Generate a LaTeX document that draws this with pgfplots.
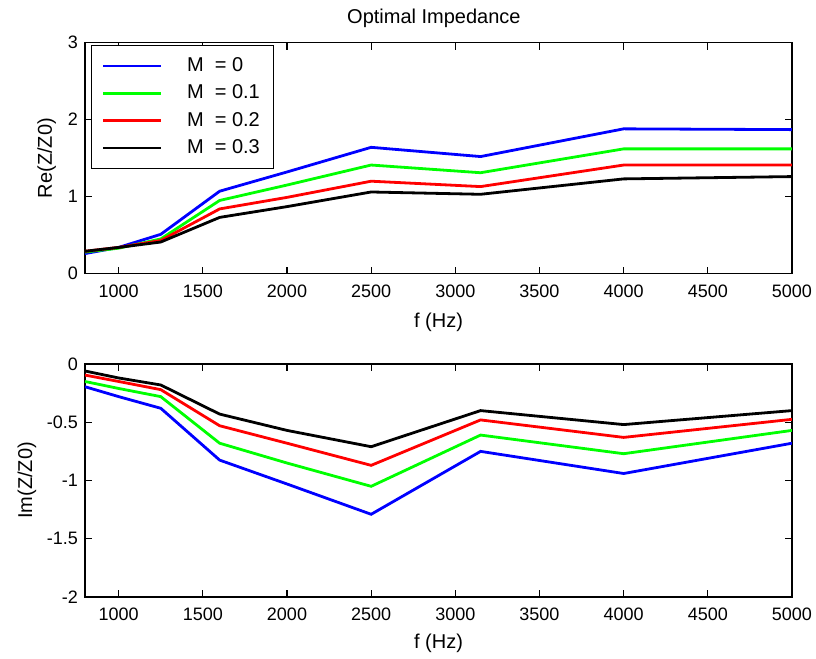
\documentclass[border=0pt]{standalone}
\usepackage{pgfplots}
\pgfplotsset{compat=1.18}
\usepackage{fontspec}
\setmainfont{Liberation Sans}
\definecolor{mblue}{RGB}{0,0,255}
\definecolor{mgreen}{RGB}{0,255,0}
\definecolor{mred}{RGB}{255,0,0}
\pgfplotsset{
  myaxis/.style={
    scale only axis, width=353.5pt,
    xmin=800, xmax=5000,
    xtick={1000,1500,2000,2500,3000,3500,4000,4500,5000},
    /pgf/number format/assume math mode=true,
    /pgf/number format/set thousands separator={},
    tick label style={font=\fontsize{9}{10}\selectfont},
    xticklabel style={yshift=-2pt},
    label style={font=\fontsize{10}{11}\selectfont},
    axis line style={line width=0.8pt},
    major tick length=3.5pt,
    every tick/.style={line width=0.6pt, black},
    xlabel={f (Hz)},
    every axis plot/.append style={line width=1.4pt},
  }
}
\begin{document}
\begin{tikzpicture}
\path[use as bounding box] (0,0) rectangle (408pt,-329.5pt);
\begin{axis}[myaxis, height=115.5pt,
  at={(42.5pt,-21.3pt)}, anchor=north west,
  ymin=0, ymax=3, ytick={0,1,2,3},
  ylabel={Re(Z/Z0)},
  ylabel style={at={(axis description cs:-0.054,0.5)}, anchor=center},
  xlabel style={at={(axis description cs:0.5,-0.212)}, anchor=center},
  title={Optimal Impedance},
  every axis title shift=0pt,
  title style={at={(axis description cs:0.4935,1.107)}, anchor=center, font=\fontsize{10}{11}\selectfont},
  legend style={at={(0.0085,0.99)}, anchor=north west, draw=black, line width=0.6pt,
    cells={anchor=west}, row sep=1.2pt, inner ysep=4pt, inner xsep=5pt,
    font=\fontsize{10}{11}\selectfont},
  legend image code/.code={\draw[#1] (0pt,0pt) -- (29pt,0pt); \path[draw=none] (0pt,0pt) -- (40pt,0pt);},
]
\addplot[mblue] coordinates {(800,0.26) (1000,0.34) (1250,0.51) (1600,1.07) (2000,1.32) (2500,1.64) (3150,1.52) (4000,1.88) (5000,1.87)};
\addlegendentry{M~~= 0}
\addplot[mgreen] coordinates {(800,0.28) (1000,0.33) (1250,0.45) (1600,0.95) (2000,1.15) (2500,1.41) (3150,1.31) (4000,1.62) (5000,1.62)};
\addlegendentry{M~~= 0.1}
\addplot[mred] coordinates {(800,0.29) (1000,0.34) (1250,0.43) (1600,0.84) (2000,0.99) (2500,1.20) (3150,1.13) (4000,1.41) (5000,1.41)};
\addlegendentry{M~~= 0.2}
\addplot[black] coordinates {(800,0.29) (1000,0.34) (1250,0.41) (1600,0.73) (2000,0.87) (2500,1.06) (3150,1.03) (4000,1.23) (5000,1.26)};
\addlegendentry{M~~= 0.3}
\end{axis}
\begin{axis}[myaxis, height=116.5pt,
  at={(42.5pt,-182pt)}, anchor=north west,
  ymin=-2, ymax=0, ytick={-2,-1.5,-1,-0.5,0},
  ylabel={Im(Z/Z0)},
  ylabel style={at={(axis description cs:-0.082,0.5)}, anchor=center},
  xlabel style={at={(axis description cs:0.5,-0.197)}, anchor=center},
]
\addplot[mblue] coordinates {(800,-0.195) (1000,-0.28) (1250,-0.38) (1600,-0.825) (2000,-1.03) (2500,-1.29) (3150,-0.75) (4000,-0.94) (5000,-0.68)};
\addplot[mgreen] coordinates {(800,-0.15) (1000,-0.21) (1250,-0.28) (1600,-0.68) (2000,-0.85) (2500,-1.05) (3150,-0.61) (4000,-0.77) (5000,-0.57)};
\addplot[mred] coordinates {(800,-0.095) (1000,-0.15) (1250,-0.22) (1600,-0.53) (2000,-0.68) (2500,-0.87) (3150,-0.48) (4000,-0.63) (5000,-0.475)};
\addplot[black] coordinates {(800,-0.06) (1000,-0.12) (1250,-0.18) (1600,-0.43) (2000,-0.57) (2500,-0.71) (3150,-0.40) (4000,-0.52) (5000,-0.40)};
\end{axis}
\end{tikzpicture}
\end{document}
